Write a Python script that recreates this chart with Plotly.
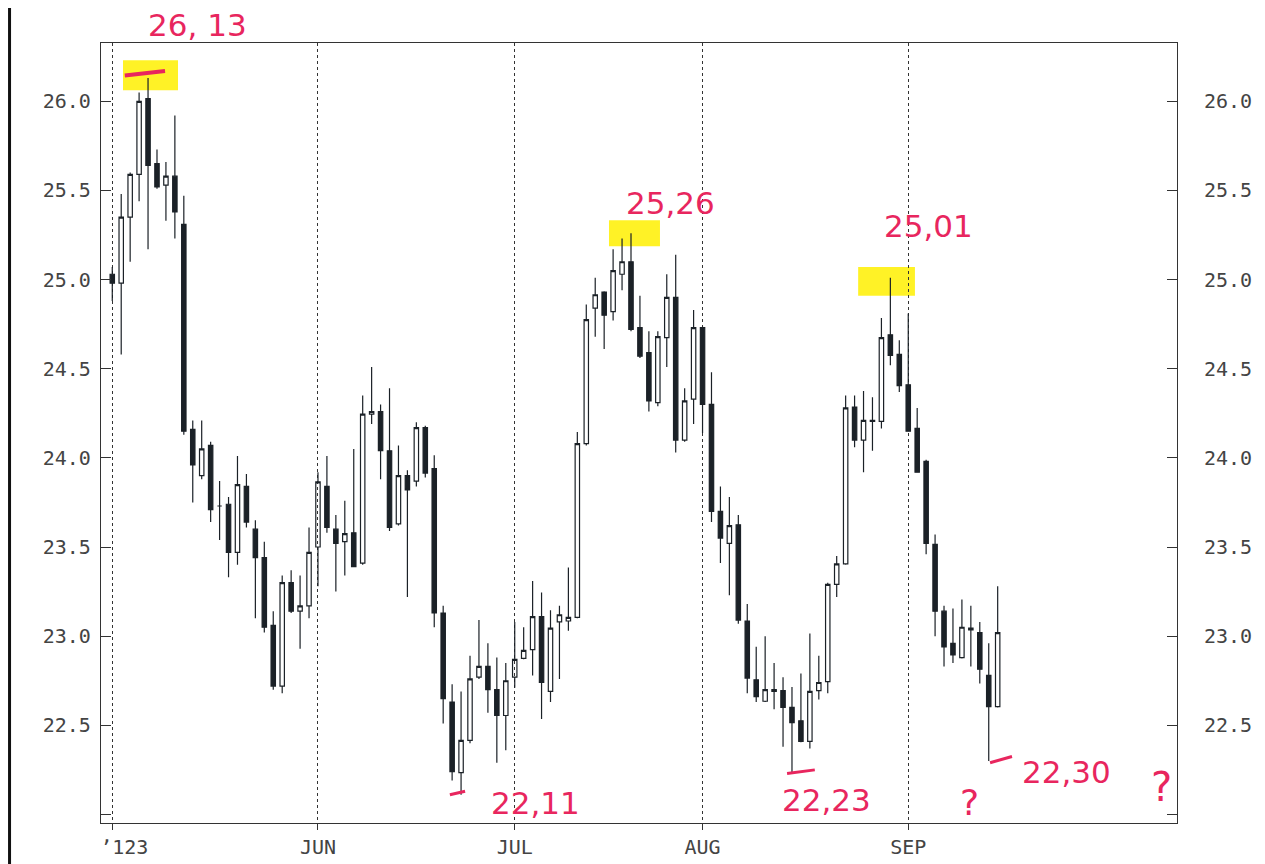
import plotly.graph_objects as go

# ---------------- data ----------------
open_ = [25.03, 24.98, 25.35, 25.59, 26.015, 25.65, 25.53, 25.58, 25.31, 24.16,
         23.90, 24.07, 23.73, 23.74, 23.47, 23.84, 23.60, 23.44, 23.06, 22.72,
         23.30, 23.14, 23.17, 23.50, 23.84, 23.60, 23.53, 23.58, 23.41, 24.245,
         24.26, 24.04, 23.63, 23.90, 23.87, 24.17, 23.94, 23.13, 22.63, 22.235,
         22.415, 22.77, 22.83, 22.70, 22.555, 22.77, 22.875, 22.925, 23.11, 22.69,
         23.08, 23.085, 23.105, 24.08, 24.84, 24.93, 24.82, 25.03, 25.10, 24.73,
         24.59, 24.31, 24.675, 24.90, 24.10, 24.33, 24.73, 24.30, 23.70, 23.52,
         23.625, 23.085, 22.755, 22.635, 22.70, 22.695, 22.60, 22.525, 22.41, 22.695,
         22.745, 23.29, 23.405, 24.285, 24.10, 24.205, 24.205, 24.69, 24.58, 24.41,
         24.165, 23.98, 23.515, 23.14, 22.96, 22.88, 23.045, 23.02, 22.78, 22.605]
high = [25.07, 25.48, 25.60, 26.05, 26.13, 25.73, 25.66, 25.92, 25.47, 24.21,
        24.21, 24.09, 23.87, 23.78, 24.01, 23.91, 23.65, 23.53, 23.14, 23.34,
        23.37, 23.34, 23.61, 23.92, 24.01, 23.68, 23.76, 24.05, 24.35, 24.51,
        24.30, 24.39, 24.07, 23.93, 24.20, 24.18, 24.015, 23.17, 22.73, 22.69,
        22.89, 23.09, 22.96, 22.88, 22.85, 23.08, 23.05, 23.31, 23.245, 23.145,
        23.17, 23.385, 24.145, 24.86, 25.01, 24.935, 25.17, 25.23, 25.26, 24.91,
        24.71, 24.71, 25.03, 25.14, 24.39, 24.83, 24.735, 24.48, 23.84, 23.78,
        23.68, 23.18, 22.94, 23.00, 22.85, 22.77, 22.715, 22.79, 23.015, 22.89,
        23.30, 23.45, 24.35, 24.35, 24.375, 24.34, 24.785, 25.01, 24.66, 24.81,
        24.28, 23.99, 23.57, 23.17, 23.155, 23.205, 23.17, 23.08, 22.96, 23.28]
low = [24.88, 24.58, 25.10, 25.44, 25.17, 25.51, 25.33, 25.23, 24.13, 23.75,
       23.88, 23.64, 23.54, 23.33, 23.40, 23.61, 23.10, 23.02, 22.70, 22.68,
       23.13, 22.93, 23.10, 23.28, 23.58, 23.25, 23.34, 23.39, 23.40, 24.19,
       23.88, 23.59, 23.62, 23.22, 23.84, 23.89, 23.05, 22.51, 22.19, 22.11,
       22.40, 22.76, 22.57, 22.29, 22.36, 22.71, 22.87, 22.78, 22.535, 22.63,
       22.76, 23.03, 23.10, 24.07, 24.68, 24.61, 24.77, 24.94, 24.71, 24.56,
       24.26, 24.29, 24.51, 24.03, 24.09, 24.19, 24.14, 23.64, 23.41, 23.23,
       23.07, 22.68, 22.63, 22.63, 22.59, 22.38, 22.23, 22.405, 22.37, 22.645,
       22.68, 23.22, 23.40, 24.06, 23.92, 24.04, 24.165, 24.52, 24.37, 24.15,
       23.92, 23.46, 23.00, 22.83, 22.85, 22.875, 22.83, 22.735, 22.30, 22.60]
close = [24.98, 25.35, 25.59, 26.00, 25.64, 25.52, 25.58, 25.38, 24.15, 23.96,
         24.05, 23.71, 23.73, 23.47, 23.85, 23.64, 23.44, 23.05, 22.72, 23.30,
         23.14, 23.17, 23.47, 23.865, 23.61, 23.52, 23.575, 23.39, 24.245, 24.26,
         24.04, 23.61, 23.90, 23.82, 24.17, 23.915, 23.13, 22.65, 22.24, 22.415,
         22.76, 22.83, 22.70, 22.555, 22.75, 22.87, 22.92, 23.11, 22.74, 23.045,
         23.12, 23.105, 24.08, 24.775, 24.915, 24.80, 25.05, 25.10, 24.72, 24.57,
         24.32, 24.68, 24.90, 24.10, 24.32, 24.73, 24.30, 23.70, 23.55, 23.62,
         23.09, 22.765, 22.66, 22.70, 22.69, 22.60, 22.515, 22.41, 22.69, 22.74,
         23.29, 23.405, 24.28, 24.10, 24.21, 24.21, 24.675, 24.575, 24.405, 24.15,
         23.92, 23.52, 23.14, 22.94, 22.895, 23.05, 23.035, 22.815, 22.605, 23.02]

month_labels = ["\u00a0\u00a0\u02bc123", "JUN", "JUL", "AUG", "SEP"]
month_start_idx = [0, 23, 45, 66, 89]

price_ticks = [22.0, 22.5, 23.0, 23.5, 24.0, 24.5, 25.0, 25.5, 26.0]
price_labels = ["", "22.5", "23.0", "23.5", "24.0", "24.5", "25.0", "25.5", "26.0"]

# handwritten notes: (candle index, price, text)
peak_notes = [(4, 26.13, "26, 13"), (58, 25.26, "25,26"), (87, 25.01, "25,01")]
trough_notes = [(39, 22.11, "22,11"), (76, 22.23, "22,23"), (98, 22.30, "22,30")]

# ---------------- figure ----------------
xs = list(range(len(open_)))
INK = "#1b2127"
RED = "#e8265e"
TICKFONT = dict(family="DejaVu Sans Mono", size=20, color="#444")
NOTEFONT = dict(family="DejaVu Sans", size=31, color=RED)
y_range = [21.952, 26.327]

fig = go.Figure()
fig.add_trace(go.Candlestick(
    x=xs, open=open_, high=high, low=low, close=close,
    increasing=dict(fillcolor="rgba(255,255,255,0)", line=dict(color=INK, width=1.2)),
    decreasing=dict(fillcolor=INK, line=dict(color=INK, width=1.2)),
    whiskerwidth=0, showlegend=False, hoverinfo="skip",
))
fig.add_trace(go.Scatter(x=[xs[0]], y=[close[0]], yaxis="y2", mode="markers",
                         marker=dict(opacity=0), showlegend=False, hoverinfo="skip"))

shapes = []
annotations = []
# yellow highlights + red marks at the peaks
peak_boxes = {4: (-2.8, 3.35, -0.068, 0.10), 58: (-2.46, 3.24, -0.073, 0.073),
              87: (-3.6, 2.75, -0.10, 0.06)}
peak_shift = {4: (49, 53), 58: (39, 30), 87: (38, 52)}
for i, v, t in peak_notes:
    a, b, c, d = peak_boxes[i]
    shapes.append(dict(type="rect", xref="x", yref="y", x0=i + a, x1=i + b,
                       y0=v + c, y1=v + d, fillcolor="#fff000", opacity=0.85,
                       line=dict(width=0), layer="below"))
    dx, dy = peak_shift[i]
    annotations.append(dict(x=i, y=v, xref="x", yref="y", text=t, showarrow=False,
                            xshift=dx, yshift=dy, font=NOTEFONT))
shapes.append(dict(type="line", xref="x", yref="y", x0=4 - 2.6, x1=4 + 1.9,
                   y0=26.13 + 0.015, y1=26.13 + 0.04, line=dict(color=RED, width=4)))

trough_dash = {39: (-1.25, 0.45, 0.0, 0.02), 76: (-0.55, 2.55, 0.0, 0.02),
               98: (0.15, 2.6, -0.01, 0.025)}
trough_shift = {39: (74, -8), 76: (35, -27), 98: (78, -11)}
for i, v, t in trough_notes:
    a, b, c, d = trough_dash[i]
    shapes.append(dict(type="line", xref="x", yref="y", x0=i + a, x1=i + b,
                       y0=v + c, y1=v + d, line=dict(color=RED, width=3)))
    dx, dy = trough_shift[i]
    annotations.append(dict(x=i, y=v, xref="x", yref="y", text=t, showarrow=False,
                            xshift=dx, yshift=dy, font=NOTEFONT))
annotations.append(dict(x=98, y=22.30, xref="x", yref="y", text="?", showarrow=False,
                        xshift=173, yshift=-26, font=dict(family="DejaVu Sans", size=40, color=RED)))
annotations.append(dict(x=98, y=22.30, xref="x", yref="y", text="?", showarrow=False,
                        xshift=-19, yshift=-42, font=dict(family="DejaVu Sans", size=36, color=RED)))

# page border at the left of the scan (kept just inside the figure's left edge)
shapes.append(dict(type="line", xref="paper", yref="paper", x0=-0.085, x1=-0.085,
                   y0=-0.06, y1=1.07, line=dict(color="#111", width=3)))

# the page body has an 8px default margin, so the figure is 8px smaller
fig.update_layout(
    template="none",
    width=1257, height=856,
    margin=dict(l=93, r=88, t=35, b=41, pad=0),
    paper_bgcolor="white", plot_bgcolor="white",
    shapes=shapes, annotations=annotations,
    xaxis=dict(range=[-1.26, 119.05], tickmode="array", tickvals=month_start_idx,
               ticktext=month_labels, ticks="outside", ticklen=6, tickcolor="#333",
               showgrid=True, gridcolor="#333", griddash="dot", gridwidth=1.4,
               showline=True, linecolor="#333", linewidth=1.2, mirror=True,
               zeroline=False, rangeslider=dict(visible=False), tickfont=TICKFONT,
               ticklabelstandoff=0, automargin=False),
    yaxis=dict(range=y_range, tickmode="array", tickvals=price_ticks,
               ticktext=price_labels, ticks="inside", ticklen=10, tickcolor="#333",
               showgrid=False, showline=True, linecolor="#333", linewidth=1.2,
               mirror=True, zeroline=False, tickfont=TICKFONT, ticklabelstandoff=5,
               automargin=False),
    yaxis2=dict(range=y_range, overlaying="y", side="right", tickmode="array",
                tickvals=price_ticks, ticktext=price_labels, ticks="inside",
                ticklen=10, tickcolor="#333", showgrid=False, showline=False,
                zeroline=False, tickfont=TICKFONT, ticklabelstandoff=26,
                automargin=False),
)

fig.write_html("out.html")
